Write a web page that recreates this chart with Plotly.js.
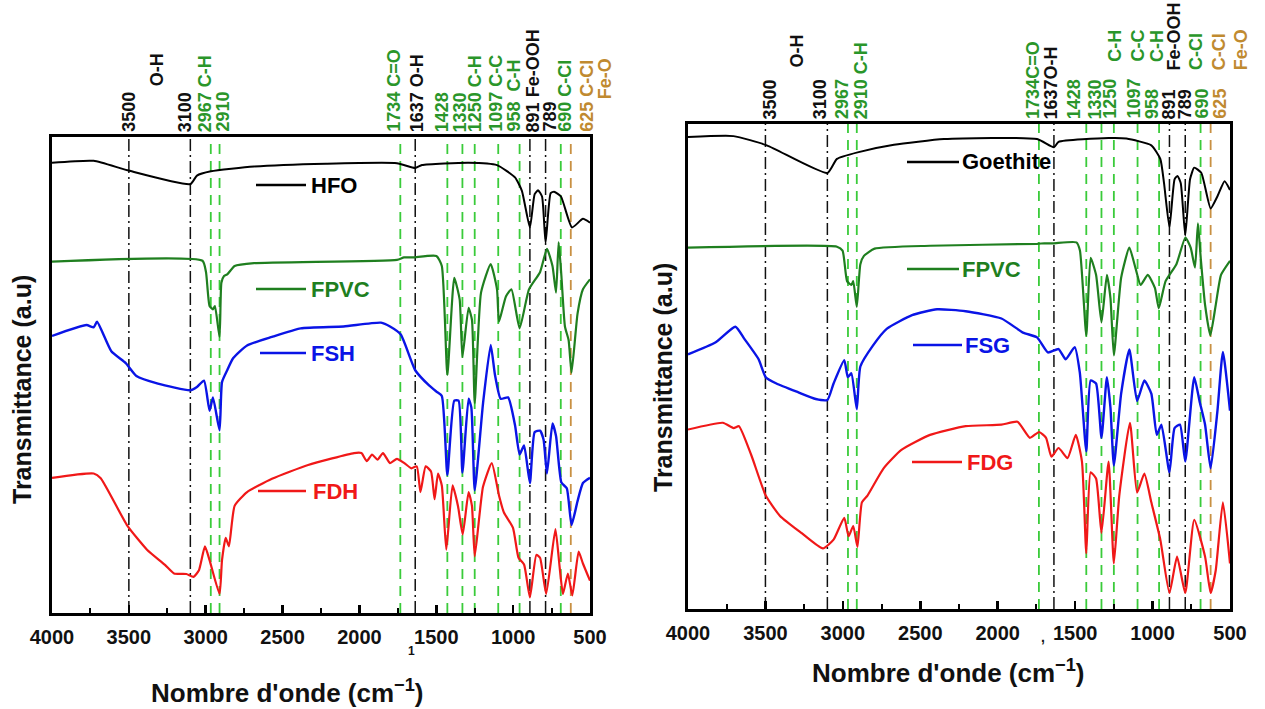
<!DOCTYPE html>
<html><head><meta charset="utf-8">
<script src="https://cdn.plot.ly/plotly-3.0.1.min.js"></script>
<style>html,body{margin:0;padding:0;background:#fff;}#chart{width:1265px;height:709px;}</style>
</head><body><div id="chart"></div>
<script>
// ---------- DATA (wavenumber cm-1, transmittance a.u. offset-stacked 0..100) ----------
const hfoW  = [4000,3729,3509,3100,3057,2966,2686,2217,1756,1637,1593,1290,1105,988,943,891,860,838,812,789,756,734,689,617,546,500];
const hfoT  = [94.6,95.0,93.0,90.1,91.9,92.8,93.8,94.4,94.5,93.5,94.1,94.6,94.1,91.5,88.7,81.0,88.0,88.8,87.5,77.8,88.2,88.5,87.5,81.0,82.8,82.0];

const fpvcLW = [4000,3021,2998,2975,2953,2940,2910,2898,2881,2858,2812,2686,1756,1710,1652,1499,1464,1428,1383,1348,1330,1290,1268,1250,1209,1146,1105,1092,1047,1011,958,897,825,780,744,721,704,686,663,639,620,581,546,500];
const fpvcLT = [73.8,74.0,71.6,64.5,63.8,64.5,58.0,69.4,70.8,71.2,72.9,73.5,74.2,74.7,74.7,75.0,72.9,50.0,70.4,65.9,53.8,64.1,61.6,44.1,67.3,73.3,68.0,61.2,66.5,68.0,59.8,68.0,71.6,76.5,72.9,67.3,77.9,70.8,60.2,57.3,50.5,62.9,68.0,70.1];

const fshW = [4000,3776,3729,3707,3614,3520,3451,3311,3100,3057,3011,2975,2953,2910,2894,2860,2822,2731,2569,2382,2103,1860,1801,1731,1637,1547,1499,1464,1428,1383,1355,1330,1290,1272,1250,1196,1146,1118,1081,1033,988,958,929,891,860,825,802,780,744,721,686,651,620,581,546,500];
const fshT = [58.2,60.5,60.0,61.2,55.0,52.5,49.8,48.2,46.8,47.5,48.8,42.5,45.3,38.4,48.5,51.0,53.5,56.2,58.0,59.8,60.2,61.0,60.2,58.5,51.0,47.8,46.5,45.6,29.0,44.6,44.6,29.5,45.0,43.2,25.8,44.0,56.3,50.0,45.0,45.3,39.5,33.3,35.2,27.3,38.0,38.3,36.4,29.3,39.8,37.2,27.4,26.2,18.5,23.5,27.3,28.4];

const fdhW = [4000,3729,3683,3509,3382,3265,3206,3126,3079,3044,3005,2975,2910,2894,2870,2849,2812,2731,2569,2334,2035,1987,1952,1918,1882,1847,1801,1756,1708,1662,1627,1603,1569,1534,1511,1489,1464,1435,1394,1359,1328,1290,1268,1250,1196,1139,1092,1060,1001,965,929,891,849,825,785,725,698,676,644,615,574,546,500];
const fdhT = [28.4,29.3,28.3,18.3,13.3,10.1,8.3,8.2,7.6,9.0,14.0,11.1,4.0,11.1,15.8,14.0,22.5,25.4,28.2,31.1,33.6,33.6,31.9,33.3,32.2,33.6,31.5,32.4,31.5,30.4,30.8,25.4,30.8,29.7,23.9,29.3,26.8,13.3,26.8,22.5,16.5,25.4,22.5,11.9,26.5,31.5,24.7,21.1,17.9,11.6,10.2,3.3,12.2,11.6,4.0,17.6,9.8,4.0,8.3,3.7,12.9,10.4,6.8];

const goeW = [4000,3706,3491,3100,3038,2898,2670,2347,1746,1637,1607,1284,1169,1008,950,926,891,858,839,818,789,758,731,685,625,581,535,500];
const goeT = [97.3,97.5,95.6,89.9,92.8,94.2,95.7,96.9,96.9,95.2,96.3,97.1,97.0,95.6,92.8,87.8,78.7,88.6,89.3,87.8,77.0,88.6,91.0,89.9,82.6,85.1,88.2,86.4];

const fpvcRW = [4000,3038,3002,2973,2945,2933,2910,2887,2864,2795,2437,1746,1699,1642,1492,1469,1428,1400,1365,1330,1295,1272,1250,1203,1150,1111,1077,1031,985,960,916,846,788,754,726,707,689,661,627,592,558,500];
const fpvcRT = [74.5,74.7,73.9,67.6,66.8,67.6,62.3,71.1,72.8,74.3,74.9,75.3,75.4,75.4,75.6,73.9,56.4,72.4,68.9,59.1,68.9,64.1,52.3,68.3,74.5,70.4,66.8,68.9,66.2,62.0,67.6,71.1,76.6,74.5,70.4,79.5,72.4,62.7,56.4,62.7,68.9,71.8];

const fsgW = [4000,3821,3694,3636,3544,3498,3429,3290,3175,3100,3060,2991,2968,2945,2910,2887,2806,2715,2553,2392,2207,1976,1837,1746,1676,1607,1561,1503,1470,1428,1400,1365,1330,1295,1272,1250,1203,1150,1100,1053,1008,973,943,891,858,823,789,731,697,661,625,581,546,500];
const fsgT = [52.5,55.0,58.2,55.7,51.5,47.8,46.5,44.7,43.3,43.1,46.5,51.3,47.8,48.6,41.2,50.0,54.3,57.8,60.6,61.8,61.4,59.9,57.0,56.0,52.9,53.6,51.5,54.0,48.8,32.5,47.1,46.5,35.3,47.8,41.5,29.6,44.4,53.5,42.9,47.1,44.4,35.9,38.0,28.2,37.3,38.0,30.4,47.8,42.9,38.0,29.0,40.9,53.0,40.9];

const fdgW = [4000,3775,3706,3671,3591,3498,3406,3268,3129,3060,2991,2963,2933,2906,2877,2841,2737,2622,2437,2207,1976,1872,1792,1733,1688,1653,1607,1549,1496,1456,1428,1400,1365,1330,1284,1250,1215,1146,1100,1053,1008,950,891,842,789,731,661,625,592,546,500];
const fdgT = [37.0,38.4,37.3,37.7,31.7,23.4,19.2,15.7,12.5,14.3,18.8,15.0,17.1,12.8,22.0,23.4,29.0,32.8,35.9,37.7,38.0,38.6,35.3,36.5,35.3,31.4,33.2,31.1,35.9,30.4,11.5,28.2,26.9,15.7,30.4,9.4,23.4,38.4,24.0,27.9,22.0,14.3,3.3,10.8,3.3,18.4,10.8,3.3,8.0,22.0,9.4];

// reference band positions and their kinds
const refWaves = [3500,3100,2967,2910,1734,1637,1428,1330,1250,1097,958,891,789,690,625];
const refKinds = ['oh','oh','c','c','c','oh','c','c','c','c','c','oh','oh','c','fe'];
const leftLabels  = ['3500','3100','2967 C-H','2910','1734 C=O','1637 O-H','1428','1330','1250 C-H','1097 C-C','958  C-H','891 Fe-OOH','789','690 C-Cl','625 C-Cl'];
const rightLabels = ['3500','3100','2967','2910 C-H','1734C=O','1637O-H','1428','1330','1250','1097','958','891','789','690','625'];
const tickVals = [4000,3500,3000,2500,2000,1500,1000,500];
const minorVals = [3750,3250,2750,2250,1750,1250,750];
const xTitle = "Nombre d'onde (cm<sup>−1</sup>)";
const yTitle = "Transmittance (a.u)";

// ---------- STYLE ----------
const W = 1265, H = 709;
const PX = x => x / W, PY = y => 1 - y / H;
const FONT = 'Liberation Sans, Arial, Helvetica, sans-serif';
const C = {black:'#000000', green:'#1f7f1f', blue:'#0a14e6', red:'#f01818',
           refGreen:'#3acb3a', refGold:'#c89042', lblGreen:'#2a962a', lblGold:'#c08a30'};
const kindLine = {oh:{color:'#111', dash:'12px,4px,2px,4px', width:1.5},
                  c:{color:C.refGreen, dash:'10px,7px', width:1.8},
                  fe:{color:C.refGold, dash:'10px,7px', width:1.8}};
const kindLbl = {oh:'#111', c:C.lblGreen, fe:C.lblGold};

function tr(x, y, color, xa, ya, w){
  return {x:x, y:y, xaxis:xa, yaxis:ya, mode:'lines', type:'scatter',
          line:{color:color, width:w||2, shape:'spline', smoothing:0.5}, hoverinfo:'skip', showlegend:false};
}
const data = [
  tr(hfoW, hfoT, C.black, 'x', 'y', 2),
  tr(fpvcLW, fpvcLT, C.green, 'x', 'y', 2.2),
  tr(fshW, fshT, C.blue, 'x', 'y', 2.4),
  tr(fdhW, fdhT, C.red, 'x', 'y', 2.2),
  tr(goeW, goeT, C.black, 'x2', 'y2', 2),
  tr(fpvcRW, fpvcRT, C.green, 'x2', 'y2', 2.2),
  tr(fsgW, fsgT, C.blue, 'x2', 'y2', 2.4),
  tr(fdgW, fdgT, C.red, 'x2', 'y2', 2.2)
];

function xax(domain){
  return {domain:domain, range:[4000,500], showline:true, mirror:true, linecolor:'#000', linewidth:3,
    ticks:'inside', tickmode:'array', tickvals:tickVals, ticktext:tickVals.map(String), ticklen:8, tickwidth:2.5, tickcolor:'#000',
    minor:{tickmode:'array', tickvals:minorVals, ticks:'inside', ticklen:5, tickwidth:2, tickcolor:'#000'},
    tickfont:{family:FONT, size:20, color:'#111', weight:'bold'}, ticklabelstandoff:4,
    showgrid:false, zeroline:false, fixedrange:true};
}
function yax(domain, anchor){
  return {domain:domain, range:[0,100], anchor:anchor, showline:true, mirror:true, linecolor:'#000', linewidth:3,
    showticklabels:false, ticks:'', showgrid:false, zeroline:false, fixedrange:true};
}

const shapes = [];
const annotations = [];
// reference lines
[['x','y'],['x2','y2']].forEach(([xa, ya]) => {
  refWaves.forEach((w, i) => {
    const s = kindLine[refKinds[i]];
    shapes.push({type:'line', xref:xa, yref:ya + ' domain', x0:w, x1:w, y0:0, y1:1,
                 line:{color:s.color, width:s.width, dash:s.dash}, layer:'below'});
  });
});

// top labels
const leftShift  = [0,-5,-6,3,-7,2,-5,-2,0,-3,-6,3,4,4,16];
const rightShift = [5,-7,-6,5,-6,-2,-12,-6,-4,-4,-7,0,0,1,9];
function lbl(text, xa, x, shift, bottomPx, color){
  annotations.push({text:text, xref:xa, x:x, xshift:shift, yref:'paper', y:PY(bottomPx),
    xanchor:'center', yanchor:'bottom', textangle:-90, showarrow:false,
    font:{family:FONT, size:18, color:color, weight:'bold'}, borderpad:0});
}
refWaves.forEach((w, i) => {
  lbl(leftLabels[i], 'x', w, leftShift[i], 133, kindLbl[refKinds[i]]);
  lbl(rightLabels[i], 'x2', w, rightShift[i], 120, kindLbl[refKinds[i]]);
});
lbl('O-H', 'x', 3318, 0, 87, '#111');
lbl('Fe-O', 'x', 625, 34, 100, C.lblGold);
lbl('O-H', 'x2', 3290, 0, 68, '#111');
lbl('C-H', 'x2', 1250, 1, 63, C.lblGreen);
lbl('C-C', 'x2', 1097, 0, 63, C.lblGreen);
lbl('C-H', 'x2', 958, -2, 63, C.lblGreen);
lbl('Fe-OOH', 'x2', 891, 5, 71, '#111');
lbl('C-Cl', 'x2', 690, -4, 71, C.lblGreen);
lbl('C-Cl', 'x2', 625, 9, 71, C.lblGold);
lbl('Fe-O', 'x2', 625, 31, 71, C.lblGold);

// inline legends
function key(name, color, x0, x1, yPx, tx){
  shapes.push({type:'line', xref:'paper', yref:'paper', x0:PX(x0), x1:PX(x1), y0:PY(yPx), y1:PY(yPx),
               line:{color:color, width:2.5}});
  annotations.push({text:name, xref:'paper', yref:'paper', x:PX(tx), y:PY(yPx), xanchor:'left', yanchor:'middle',
    showarrow:false, font:{family:FONT, size:22, color:color, weight:'bold'}});
}
key('HFO', C.black, 256, 306, 185, 309);
key('FPVC', C.green, 256, 306, 289, 309);
key('FSH', C.blue, 260, 306, 353, 309);
key('FDH', C.red, 258, 306, 491, 311);
key('Goethite', C.black, 907, 959, 162, 960);
key('FPVC', C.green, 907, 959, 269, 960);
key('FSG', C.blue, 913, 962, 345, 963);
key('FDG', C.red, 912, 962, 462, 965);

// axis titles
function title(text, xp, yp, angle, size){
  annotations.push({text:text, xref:'paper', yref:'paper', x:PX(xp), y:PY(yp), xanchor:'center', yanchor:'middle',
    textangle:angle, showarrow:false, font:{family:FONT, size:size, color:'#111', weight:'bold'}});
}
title(xTitle, 287, 691, 0, 26);
title(xTitle, 948, 671, 0, 26);
title(yTitle, 22, 390, -90, 25);
title(yTitle, 663, 378, -90, 25);
// stray marks present in the original figure
title('1', 411, 651, 0, 12);
title(',', 1043, 637, 0, 14);

const layout = {
  width:W, height:H, autosize:false, margin:{l:0, r:0, t:0, b:0},
  paper_bgcolor:'#fff', plot_bgcolor:'#fff', showlegend:false,
  xaxis: xax([52/W, 590/W]), yaxis: yax([1-613/H, 1-137/H], 'x'),
  xaxis2: Object.assign(xax([688/W, 1230/W]), {anchor:'y2'}), yaxis2: yax([1-609/H, 1-124/H], 'x2'),
  shapes:shapes, annotations:annotations
};
layout.xaxis.anchor = 'y';
Plotly.newPlot('chart', data, layout, {staticPlot:true, displayModeBar:false});
</script></body></html>
